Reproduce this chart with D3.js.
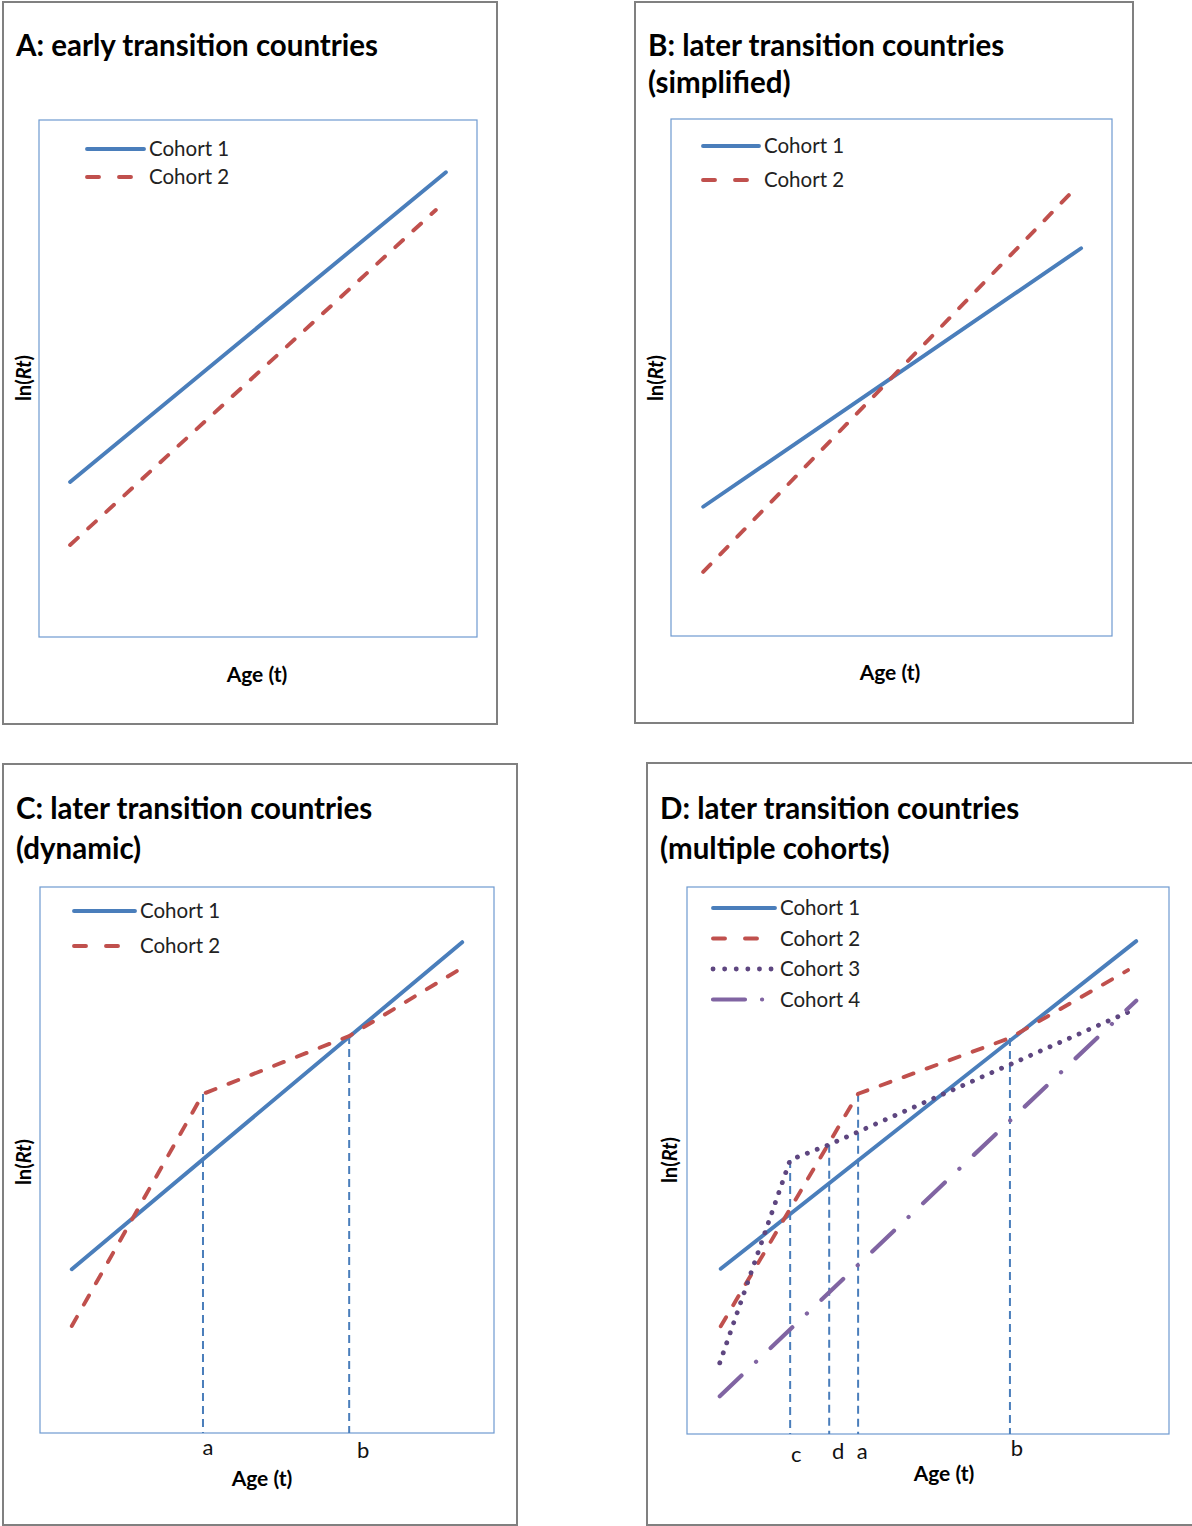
<!DOCTYPE html>
<html>
<head>
<meta charset="utf-8">
<script src="https://cdn.jsdelivr.net/npm/d3@7"></script>
<style>
  body { margin: 0; background: #fff; }
  svg { display: block; font-family: Lato, "Open Sans", sans-serif; }
</style>
</head>
<body>
<svg id="chart" width="1192" height="1526"></svg>
<script>
// ---- data (age and ln(Rt) on a 0-100 schematic scale) ----
const titlesA = ["A: early transition countries"];
const titlesB = ["B: later transition countries", "(simplified)"];
const titlesC = ["C: later transition countries", "(dynamic)"];
const titlesD = ["D: later transition countries", "(multiple cohorts)"];
const cohortNames = ["Cohort 1", "Cohort 2", "Cohort 3", "Cohort 4"];
const xTitle = "Age (t)";

const A_cohort1 = [[7.1, 30.0], [92.9, 89.9]];
const A_cohort2 = [[7.1, 17.8], [90.6, 82.6]];

const B_cohort1 = [[7.3, 25.0], [93.0, 75.0]];
const B_cohort2 = [[7.3, 12.4], [90.7, 85.7]];

const C_cohort1 = [[7.0, 30.0], [93.0, 89.9]];
const C_cohort2 = [[7.0, 19.6], [35.9, 62.1], [68.1, 72.7], [93.0, 85.2]];
const C_markers = ["a", "b"];
const C_markerAge = [35.9, 68.1];
const C_markerTop = [62.1, 72.7];

const D_cohort1 = [[7.0, 30.2], [93.2, 90.1]];
const D_cohort2 = [[7.0, 19.7], [35.5, 62.2], [67.0, 72.4], [91.5, 84.8]];
const D_cohort3 = [[6.8, 13.0], [21.4, 50.1], [29.5, 52.9], [92.5, 77.5]];
const D_cohort4 = [[6.8, 6.9], [93.2, 79.2]];
const D_markers = ["c", "d", "a", "b"];
const D_markerAge = [21.4, 29.5, 35.5, 67.0];
const D_markerTop = [50.1, 52.9, 62.2, 72.4];

// ---- styles ----
const styles = [
  { color: "#4A7EBB", dash: null, legendDash: null, width: 3.9 },
  { color: "#C0504D", dash: "10.5,14", legendDash: "12,20", width: 3.9 },
  { color: "#5E4680", dash: "0.1,10.5", legendDash: "0.1,11.5", width: 4.8 },
  { color: "#8064A2", dash: "30,20,0.1,20", legendDash: "32,17,0.1,20", width: 4.2 }
];

const svg = d3.select("#chart");

function drawPanel(cfg) {
  const g = svg.append("g");
  // outer frame
  g.append("rect")
    .attr("x", cfg.frame[0]).attr("y", cfg.frame[1])
    .attr("width", cfg.frame[2]).attr("height", cfg.frame[3])
    .attr("fill", "#fff").attr("stroke", "#808080").attr("stroke-width", 2);

  // title
  cfg.title.forEach((t, i) => {
    g.append("text")
      .attr("x", cfg.frame[0] + 13).attr("y", cfg.titleY + i * cfg.titleGap)
      .attr("font-size", 29.5).attr("font-weight", 700).attr("fill", "#000")
      .text(t);
  });

  const p = cfg.plot;
  const x = d3.scaleLinear().domain([0, 100]).range([p[0], p[0] + p[2]]);
  const y = d3.scaleLinear().domain([0, 100]).range([p[1] + p[3], p[1]]);

  g.append("rect")
    .attr("x", p[0]).attr("y", p[1]).attr("width", p[2]).attr("height", p[3])
    .attr("fill", "none").attr("stroke", "#6E9AD0").attr("stroke-width", 1.2);

  // marker guide lines
  if (cfg.markers) {
    cfg.markers.forEach((m, i) => {
      g.append("line")
        .attr("x1", x(cfg.markerAge[i])).attr("x2", x(cfg.markerAge[i]))
        .attr("y1", y(cfg.markerTop[i])).attr("y2", y(0))
        .attr("stroke", "#4A7EBB").attr("stroke-width", 2)
        .attr("stroke-dasharray", "8,5");
      g.append("text")
        .attr("x", x(cfg.markerAge[i]) + cfg.labelDx[i])
        .attr("y", y(0) + cfg.labelDy[i])
        .attr("text-anchor", "middle").attr("font-size", 22).attr("fill", "#111")
        .text(m);
    });
  }

  const line = d3.line().x(d => x(d[0])).y(d => y(d[1]));
  cfg.series.forEach((s, i) => {
    const st = styles[i];
    g.append("path")
      .datum(s)
      .attr("d", line)
      .attr("fill", "none")
      .attr("stroke", st.color)
      .attr("stroke-width", st.width)
      .attr("stroke-linecap", "round")
      .attr("stroke-linejoin", "round")
      .attr("stroke-dasharray", st.dash);
  });

  // legend
  cfg.series.forEach((s, i) => {
    const st = styles[i];
    const ly = cfg.legend[1] + i * cfg.legendGap;
    g.append("line")
      .attr("x1", cfg.legend[0]).attr("x2", cfg.legend[0] + cfg.legendLen)
      .attr("y1", ly).attr("y2", ly)
      .attr("stroke", st.color).attr("stroke-width", st.width)
      .attr("stroke-linecap", "round")
      .attr("stroke-dasharray", st.legendDash);
    g.append("text")
      .attr("x", cfg.legend[0] + cfg.legendLen + 5).attr("y", ly + 7)
      .attr("font-size", 20.5).attr("fill", "#222")
      .text(cohortNames[i]);
  });

  // axis titles
  g.append("text")
    .attr("x", cfg.xTitle[0]).attr("y", cfg.xTitle[1])
    .attr("text-anchor", "middle").attr("font-size", 21).attr("font-weight", 700)
    .text(xTitle);

  const yt = g.append("text")
    .attr("transform", `translate(${cfg.yTitle[0]},${cfg.yTitle[1]}) rotate(-90)`)
    .attr("text-anchor", "middle").attr("font-size", 20).attr("font-weight", 700);
  yt.append("tspan").text("ln(");
  yt.append("tspan").attr("font-style", "italic").text("Rt");
  yt.append("tspan").text(")");
}

drawPanel({
  frame: [3, 2, 494, 722], title: titlesA, titleY: 56, titleGap: 38,
  plot: [39, 120, 438, 517],
  series: [A_cohort1, A_cohort2],
  legend: [87, 149], legendLen: 57, legendGap: 28,
  xTitle: [257, 682], yTitle: [31, 378]
});

drawPanel({
  frame: [635, 2, 498, 721], title: titlesB, titleY: 56, titleGap: 37,
  plot: [671, 119, 441, 517],
  series: [B_cohort1, B_cohort2],
  legend: [703, 146], legendLen: 56, legendGap: 34,
  xTitle: [890, 680], yTitle: [663, 378]
});

drawPanel({
  frame: [3, 764, 514, 761], title: titlesC, titleY: 819, titleGap: 40,
  plot: [40, 887, 454, 546],
  series: [C_cohort1, C_cohort2],
  legend: [74, 911], legendLen: 61, legendGap: 35,
  markers: C_markers, markerAge: C_markerAge, markerTop: C_markerTop,
  labelDx: [5, 14], labelDy: [22, 25],
  xTitle: [262, 1486], yTitle: [31, 1162]
});

drawPanel({
  frame: [647, 763, 546, 762], title: titlesD, titleY: 819, titleGap: 40,
  plot: [687, 887, 482, 547],
  series: [D_cohort1, D_cohort2, D_cohort3, D_cohort4],
  legend: [713, 908], legendLen: 62, legendGap: 30.5,
  markers: D_markers, markerAge: D_markerAge, markerTop: D_markerTop,
  labelDx: [6, 9, 4, 7], labelDy: [28, 25, 25, 22],
  xTitle: [944, 1481], yTitle: [677, 1160]
});
</script>
</body>
</html>
